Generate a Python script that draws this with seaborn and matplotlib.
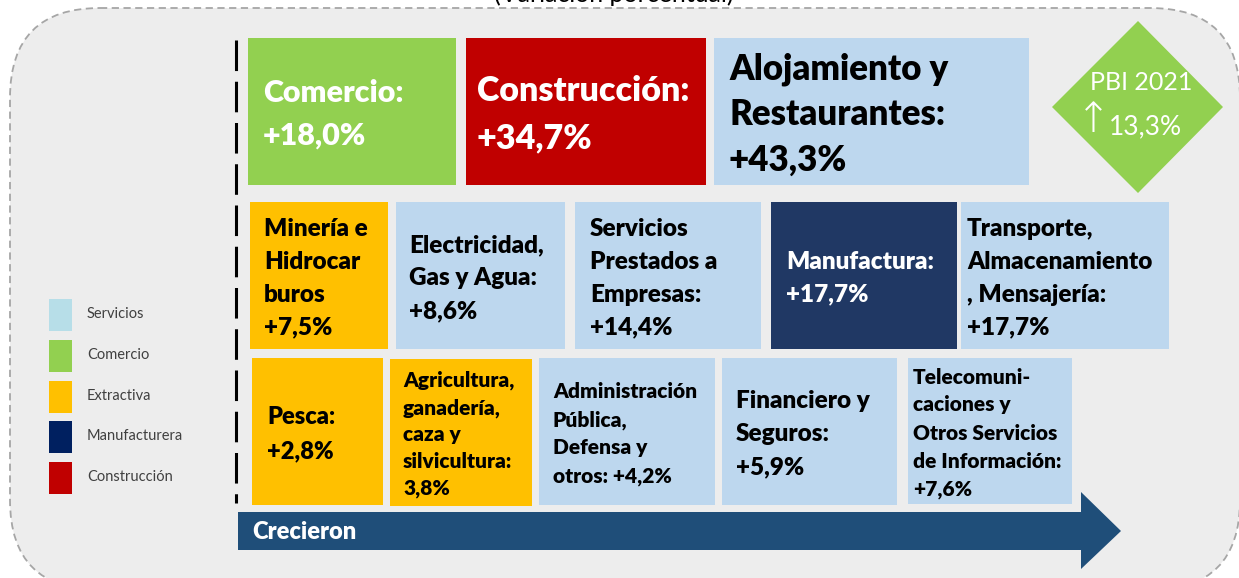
import numpy as np
import pandas as pd
import seaborn as sns
import matplotlib.pyplot as plt
from matplotlib.patches import Rectangle, Polygon, FancyBboxPatch

# ---------------------------------------------------------------------------
# Datos: crecimiento por sector, PBI 2021 (variación porcentual)
sectores = ["Comercio:", "Construcción:", "Alojamiento y\nRestaurantes:",
            "Minería e\nHidrocar\nburos", "Electricidad,\nGas y Agua:",
            "Servicios\nPrestados a\nEmpresas:", "Manufactura:",
            "Transporte,\nAlmacenamiento\n, Mensajería:",
            "Pesca:", "Agricultura,\nganadería,\ncaza y\nsilvicultura:",
            "Administración\nPública,\nDefensa y\notros:",
            "Financiero y\nSeguros:",
            "Telecomuni-\ncaciones y\nOtros Servicios\nde Información:"]
variacion = [18.0, 34.7, 43.3, 7.5, 8.6, 14.4, 17.7, 17.7, 2.8, 3.8, 4.2, 5.9, 7.6]
grupo = ["Comercio", "Construcción", "Servicios", "Extractiva", "Servicios",
         "Servicios", "Manufacturera", "Servicios", "Extractiva", "Extractiva",
         "Servicios", "Servicios", "Servicios"]
con_signo = [True] * 9 + [False] + [True] * 3
misma_linea = [False] * 10 + [True] + [False] * 2

grupos_leyenda = ["Servicios", "Comercio", "Extractiva", "Manufacturera", "Construcción"]
pbi_anio = 2021
pbi_var = 13.3

titulo = "(Variación porcentual)"
flecha_txt = "Crecieron"

# ---------------------------------------------------------------------------
# Layout (coordenadas en píxeles, y hacia abajo)
cajas = [(248, 38, 456, 185), (466, 38, 706, 185), (714, 38, 1029, 185),
         (250, 202, 388, 349), (396, 202, 565, 349), (575, 202, 761, 349),
         (771, 202, 957, 349), (961, 202, 1169, 349),
         (252, 358, 383, 505), (390, 359, 532, 506), (539, 358, 715, 505),
         (722, 358, 897, 505), (908, 358, 1072, 504)]
texto_x = [263, 477, 729, 264, 409, 590, 786, 967, 267, 403, 553, 736, 913]
tam_fuente = [22, 24.5, 25, 17.5, 17.5, 17.5, 17.5, 17.5, 17, 15, 15, 17.5, 15]
paso_linea = [42, 47, 46, 33, 33, 33, 33, 33, 34, 27, 28, 33, 28]

color_caja = {"Servicios": "#BDD7EE", "Comercio": "#92D050", "Extractiva": "#FFC000",
              "Manufacturera": "#203864", "Construcción": "#C00000"}
color_leyenda = sns.color_palette(["#B7DEE8", "#92D050", "#FFC000", "#002060", "#C00000"])
texto_blanco = {"Comercio", "Construcción", "Manufacturera"}

sns.set_theme(style="white")
plt.rcParams['font.family'] = ['Lato', 'DejaVu Sans']

fig = plt.figure(figsize=(12.39, 5.78), dpi=100)
ax = fig.add_axes([0, 0, 1, 1])
ax.set_xlim(0, 1239)
ax.set_ylim(578, 0)
ax.axis('off')

# fondo redondeado con borde punteado
ax.add_patch(FancyBboxPatch((10, 8), 1230, 582,
                            boxstyle="round,pad=0,rounding_size=90",
                            fc="#EDEDED", ec="#A6A6A6", lw=1.3, ls=(0, (4, 2.5))))

# titulo (recortado en el borde superior, como en el original)
ax.text(614, 6, titulo, ha='center', va='bottom', fontsize=18, color='black')

# linea vertical punteada
ax.plot([236, 236], [40, 503], color='black', lw=2.2, ls=(0, (10, 3.5)))


def escribir(x, cy, lineas, size, pitch, color):
    em = size * 100 / 72
    n = len(lineas)
    for i, ln in enumerate(lineas):
        yc = cy + (i - (n - 1) / 2) * pitch
        ax.text(x, yc + 0.36 * em, ln, ha='left', va='baseline',
                fontsize=size, fontweight='heavy', color=color)


for i, nombre in enumerate(sectores):
    x0, y0, x1, y1 = cajas[i]
    g = grupo[i]
    ax.add_patch(Rectangle((x0, y0), x1 - x0, y1 - y0, fc=color_caja[g], ec='none'))
    valor = f"{variacion[i]:.1f}".replace('.', ',') + "%"
    if con_signo[i]:
        valor = "+" + valor
    lineas = nombre.split("\n")
    if misma_linea[i]:
        lineas[-1] = lineas[-1] + " " + valor
    else:
        lineas.append(valor)
    col = 'white' if g in texto_blanco else 'black'
    escribir(texto_x[i], (y0 + y1) / 2 + 1, lineas, tam_fuente[i], paso_linea[i], col)

# rombo PBI
ax.add_patch(Polygon([(1138, 21), (1223, 107), (1138, 193), (1052, 107)],
                     closed=True, fc="#92D050", ec='none'))
ax.text(1141, 83, f"PBI {pbi_anio}", ha='center', va='center', fontsize=18,
        color='white')
ax.text(1093, 120, "\u2191", ha='center', va='center', fontsize=30, color='white',
        family=['DejaVu Sans'], fontweight='light')
ax.text(1145, 127, f"{pbi_var:.1f}%".replace('.', ','), ha='center', va='center',
        fontsize=19, color='white')

# leyenda
for j, g in enumerate(grupos_leyenda):
    y0 = 299 + j * 40.8
    ax.add_patch(Rectangle((49, y0), 23, 32, fc=color_leyenda[j], ec='none'))
    ax.text(87, y0 + 15, g, ha='left', va='center', fontsize=10.5, color='#404040')

# flecha "Crecieron"
ax.add_patch(Polygon([(238, 512), (1081, 512), (1081, 492), (1121, 531),
                      (1081, 569), (1081, 550), (238, 550)],
                     closed=True, fc="#1F4E79", ec='none'))
ax.text(252, 532, flecha_txt, ha='left', va='center', fontsize=17,
        fontweight='heavy', color='white')

plt.savefig('out.png', dpi=100, facecolor='white')
